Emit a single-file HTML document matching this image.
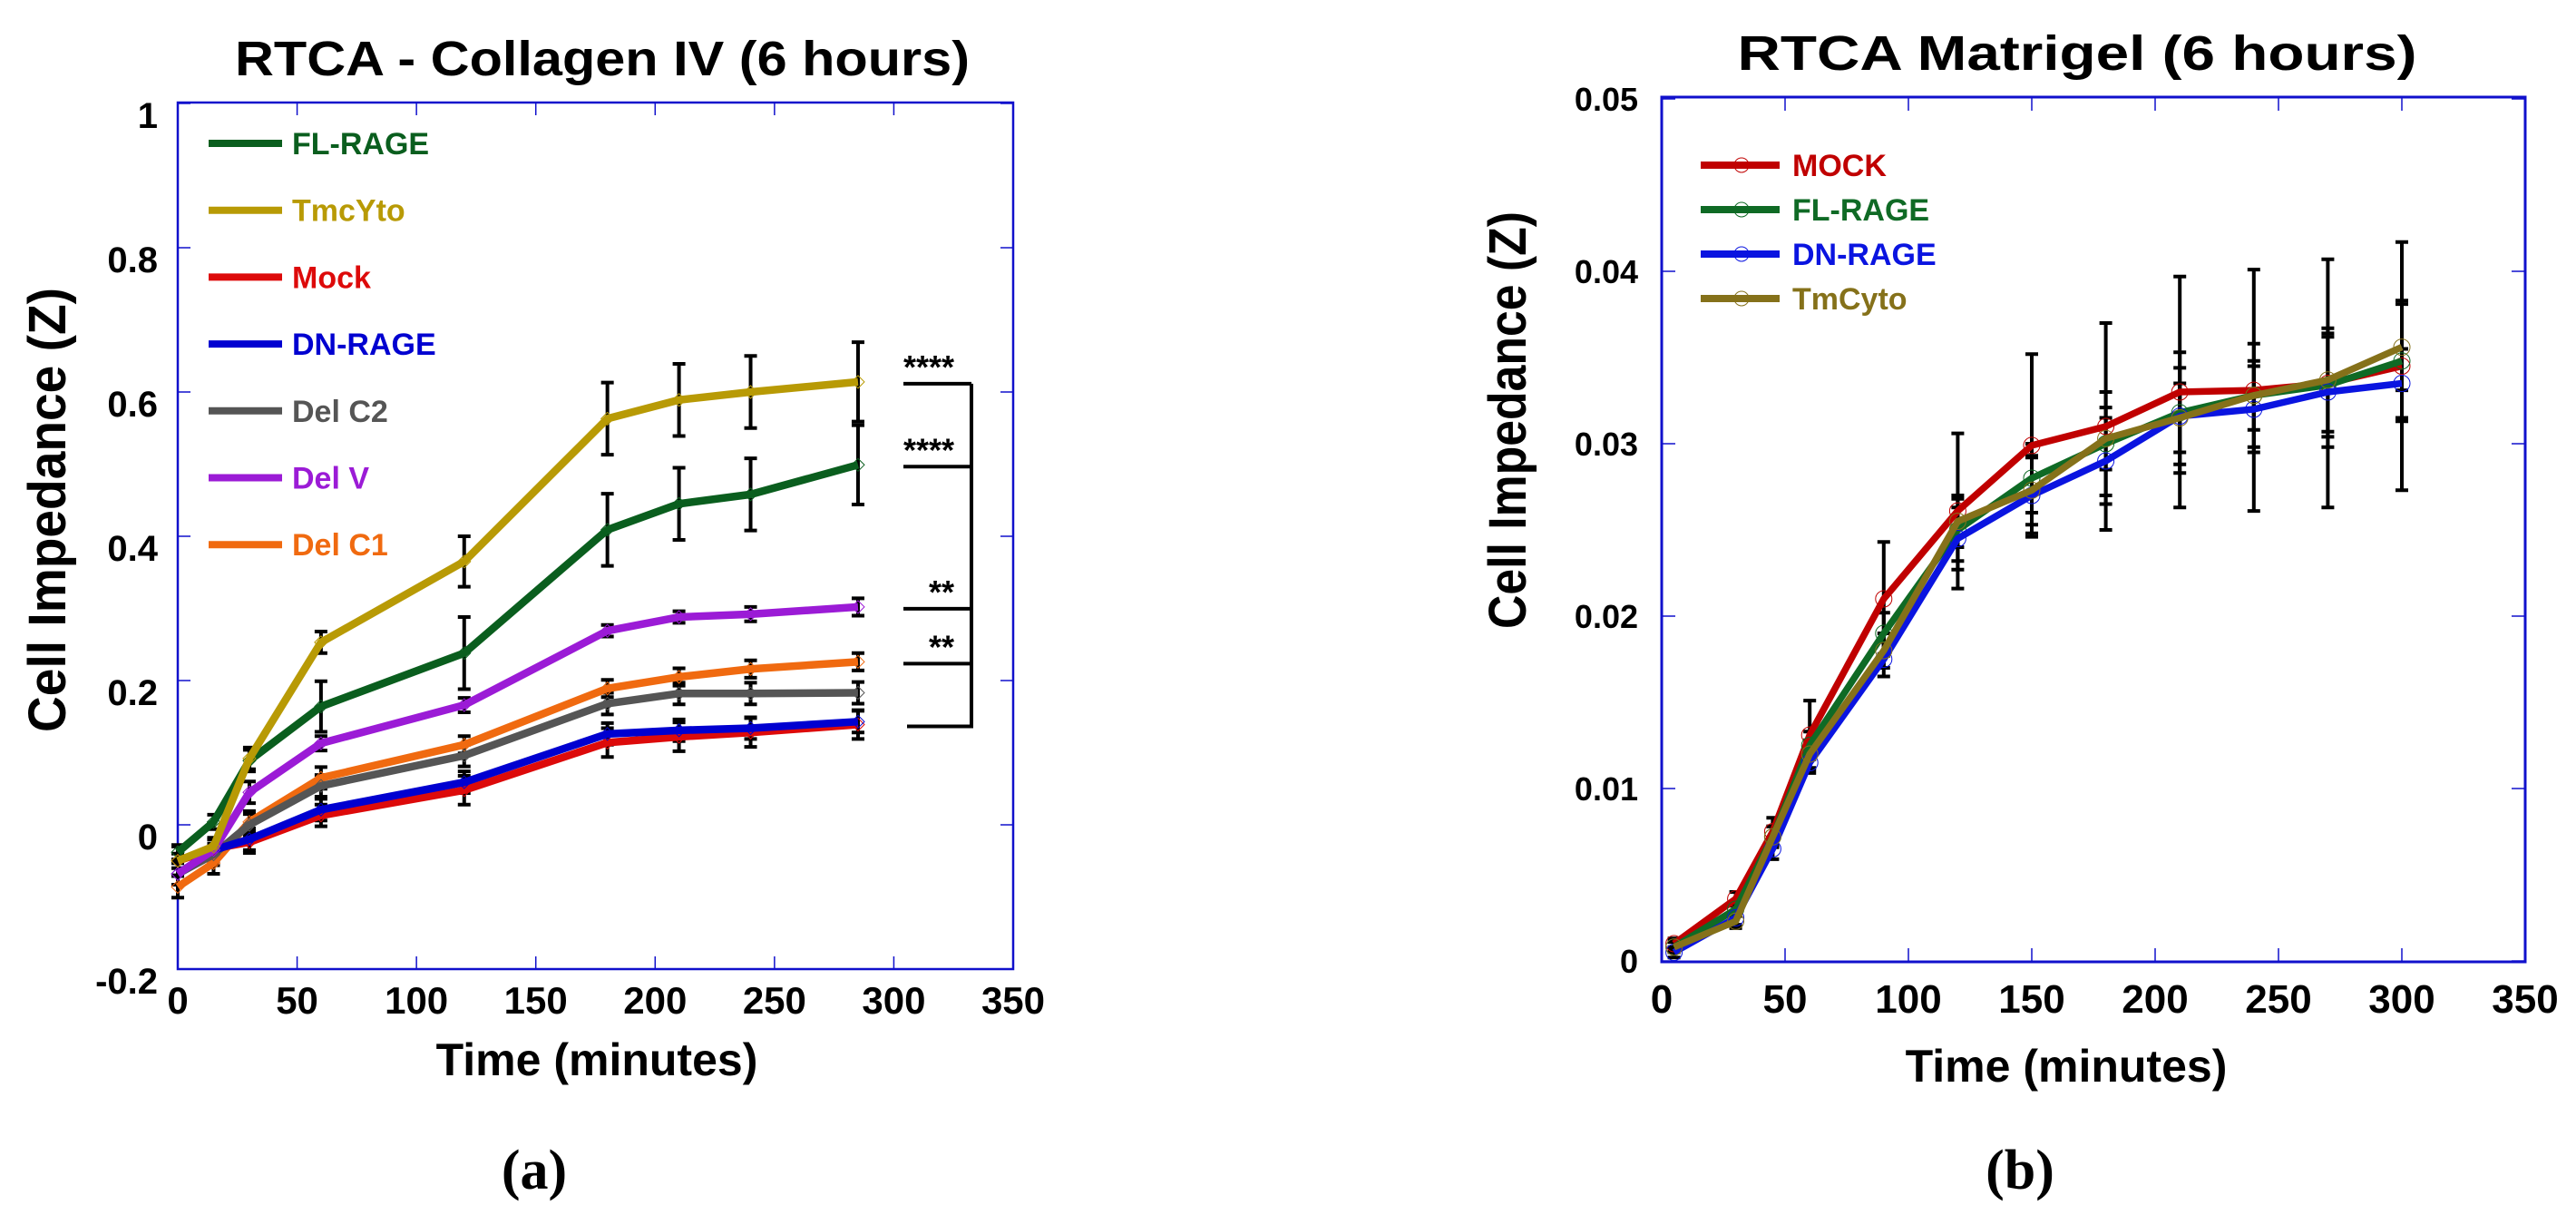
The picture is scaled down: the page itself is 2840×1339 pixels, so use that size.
<!DOCTYPE html>
<html><head><meta charset="utf-8"><style>
html,body{margin:0;padding:0;background:#fff;}
svg{display:block;font-family:"Liberation Sans",Arial,sans-serif;font-weight:bold;}
</style></head><body>
<svg id="fig" width="2840" height="1339" viewBox="0 0 2840 1339" xmlns="http://www.w3.org/2000/svg">
<g id="A"></g>
<g id="B"></g>
</svg>
<script>
// ---------- Chart A data ----------
const aTimes = [0, 15, 30, 60, 120, 180, 210, 240, 285];
const aNames = ["FL-RAGE","TmcYto","Mock","DN-RAGE","Del C2","Del V","Del C1"];
const aFL   = [-0.038, 0.004, 0.089, 0.164, 0.238, 0.409, 0.445, 0.458, 0.499];
const aTmc  = [-0.050, -0.030, 0.092, 0.253, 0.365, 0.563, 0.589, 0.600, 0.614];
const aMock = [-0.050, -0.033, -0.024, 0.013, 0.048, 0.114, 0.122, 0.128, 0.139];
const aDN   = [-0.068, -0.035, -0.020, 0.021, 0.059, 0.126, 0.131, 0.134, 0.143];
const aC2   = [-0.068, -0.041, 0.000, 0.054, 0.096, 0.168, 0.182, 0.182, 0.183];
const aDelV = [-0.068, -0.035, 0.045, 0.113, 0.166, 0.269, 0.288, 0.292, 0.302];
const aC1   = [-0.086, -0.053, 0.004, 0.065, 0.111, 0.189, 0.205, 0.216, 0.226];
const aErrFL   = [0.01, 0.01, 0.015, 0.035, 0.05, 0.05, 0.05, 0.05, 0.055];
const aErrTmc  = [0.01, 0.01, 0.015, 0.015, 0.035, 0.05, 0.05, 0.05, 0.055];
const aErrMock = [0.02, 0.015, 0.015, 0.015, 0.02, 0.02, 0.02, 0.02, 0.02];
const aErrDN   = [0.015, 0.015, 0.015, 0.015, 0.015, 0.015, 0.015, 0.015, 0.015];
const aErrC2   = [0.015, 0.015, 0.015, 0.015, 0.015, 0.015, 0.015, 0.015, 0.015];
const aErrDelV = [0.015, 0.015, 0.015, 0.01, 0.01, 0.008, 0.008, 0.01, 0.012];
const aErrC1   = [0.015, 0.015, 0.015, 0.015, 0.012, 0.012, 0.012, 0.012, 0.012];
const aYTicks = [-0.2, 0, 0.2, 0.4, 0.6, 0.8, 1];
const aYTickLabels = ["-0.2","0","0.2","0.4","0.6","0.8","1"];
const aXTicks = [0, 50, 100, 150, 200, 250, 300, 350];
const aSigLabels = ["****","****","**","**"];
const aSigValues = [0.614, 0.499, 0.302, 0.226];
const aSigBase = 0.139;

// ---------- Chart B data ----------
const bTimes = [5, 30, 45, 60, 90, 120, 150, 180, 210, 240, 270, 300];
const bNames = ["MOCK","FL-RAGE","DN-RAGE","TmCyto"];
const bMock = [0.0010, 0.0036, 0.0075, 0.0131, 0.0210, 0.0261, 0.0299, 0.0310, 0.0330, 0.0331, 0.0335, 0.0345];
const bFL   = [0.0008, 0.0030, 0.0072, 0.0125, 0.0190, 0.0250, 0.0280, 0.0300, 0.0318, 0.0328, 0.0334, 0.0348];
const bDN   = [0.0005, 0.0025, 0.0065, 0.0115, 0.0175, 0.0245, 0.0270, 0.0290, 0.0316, 0.0320, 0.0330, 0.0335];
const bTm   = [0.0008, 0.0023, 0.0072, 0.0120, 0.0180, 0.0255, 0.0273, 0.0303, 0.0315, 0.0328, 0.0337, 0.0356];
const bErrMock = [0.0003, 0.0004, 0.0008, 0.0020, 0.0033, 0.0045, 0.0053, 0.0060, 0.0067, 0.0070, 0.0072, 0.0072];
const bErrFL   = [0.0003, 0.0004, 0.0006, 0.0008, 0.0012, 0.0018, 0.0020, 0.0030, 0.0035, 0.0030, 0.0030, 0.0035];
const bErrDN   = [0.0003, 0.0004, 0.0006, 0.0006, 0.0010, 0.0018, 0.0022, 0.0025, 0.0028, 0.0025, 0.0032, 0.0020];
const bErrTm   = [0.0003, 0.0004, 0.0006, 0.0008, 0.0010, 0.0015, 0.0020, 0.0018, 0.0020, 0.0020, 0.0030, 0.0025];
const bYTicks = [0, 0.01, 0.02, 0.03, 0.04, 0.05];
const bYTickLabels = ["0","0.01","0.02","0.03","0.04","0.05"];
const bXTicks = [0, 50, 100, 150, 200, 250, 300, 350];

const NS = "http://www.w3.org/2000/svg";
function mk(parent, tag, attrs, text) {
  const e = document.createElementNS(NS, tag);
  for (const k in attrs) e.setAttribute(k, attrs[k]);
  if (text !== undefined) e.textContent = text;
  parent.appendChild(e);
  return e;
}

// ---------- Chart A ----------
(function(){
  const g = document.getElementById("A");
  const L = 196, R = 1117, T = 113, B = 1068;
  const x = t => L + (t - 0) / 350 * (R - L);
  const y = v => 909 - v * 795;
  const frame = mk(g, "rect", {x:L, y:T, width:R-L, height:B-T, fill:"none", stroke:"#1010cc", "stroke-width":2.5});
  
  
  aYTicks.forEach((v,i) => {
    const t1 = mk(g, "line", {x1:L, x2:L+14, y1:y(v), y2:y(v), stroke:"#1010cc", "stroke-width":1.5});
    
    
    const t2 = mk(g, "line", {x1:R-14, x2:R, y1:y(v), y2:y(v), stroke:"#1010cc", "stroke-width":1.5});
    
    
    const lb = mk(g, "text", {x:174, y:y(v)+27, "text-anchor":"end", "font-size":40}, aYTickLabels[i]);
    
    
  });
  aXTicks.forEach(v => {
    const t1 = mk(g, "line", {x1:x(v), x2:x(v), y1:B, y2:B-14, stroke:"#1010cc", "stroke-width":1.5});
    
    
    const t2 = mk(g, "line", {x1:x(v), x2:x(v), y1:T, y2:T+14, stroke:"#1010cc", "stroke-width":1.5});
    
    
    const lb = mk(g, "text", {x:x(v), y:1117, "text-anchor":"middle", "font-size":42}, String(v));
    
    
  });
  const series = [
    [aC1, aErrC1, "#f06a10"], [aC2, aErrC2, "#555555"], [aMock, aErrMock, "#dd0a0a"],
    [aDN, aErrDN, "#0000d0"], [aDelV, aErrDelV, "#9b1bd6"], [aFL, aErrFL, "#0a5e1e"], [aTmc, aErrTmc, "#b89a05"]
  ];
  series.forEach(([vals, errs, col]) => {
    vals.forEach((v,i) => {
      const hi = y(v+errs[i]), lo = y(v-errs[i]), cx = x(aTimes[i]);
      const eb = mk(g, "path", {d:`M${cx},${hi}V${lo}M${cx-7},${hi}h14M${cx-7},${lo}h14`, stroke:"#000", "stroke-width":4, fill:"none"});
      
      
    });
  });
  series.forEach(([vals, errs, col]) => {
    const pl = mk(g, "polyline", {points: vals.map((v,i)=>x(aTimes[i])+","+y(v)).join(" "), fill:"none", stroke:col, "stroke-width":8.5, "stroke-linejoin":"round"});
    
    
    vals.forEach((v,i) => {
      const cx = x(aTimes[i]), cy = y(v);
      const m = mk(g, "path", {d:`M${cx-7},${cy}L${cx},${cy-7}L${cx+7},${cy}L${cx},${cy+7}Z`, fill:"none", stroke:col, "stroke-width":1});
      
      
    });
  });
  const legCols = ["#0a5e1e","#b89a05","#dd0a0a","#0000d0","#555555","#9b1bd6","#f06a10"];
  aNames.forEach((n,i) => {
    const yy = 158 + i * 73.7;
    const ln = mk(g, "line", {x1:230, x2:311, y1:yy, y2:yy, stroke:legCols[i], "stroke-width":8});
    
    
    const tx = mk(g, "text", {x:322, y:yy+12, "font-size":34, fill:legCols[i]}, n);
    
    
  });
  const vx = 1071;
  const vline = mk(g, "line", {x1:vx, x2:vx, y1:y(aSigValues[0])+2, y2:y(aSigBase)+2, stroke:"#000", "stroke-width":4});
  
  
  const bl = mk(g, "line", {x1:1000, x2:vx+2, y1:y(aSigBase)+2, y2:y(aSigBase)+2, stroke:"#000", "stroke-width":4});
  
  
  aSigValues.forEach((v,i) => {
    const yy = y(v)+2;
    const hl = mk(g, "line", {x1:996, x2:vx, y1:yy, y2:yy, stroke:"#000", "stroke-width":4});
    
    
    const st = mk(g, "text", {x:1052, y:yy-6, "text-anchor":"end", "font-size":36}, aSigLabels[i]);
    
    
  });
  const title = mk(g, "text", {x:664, y:83, "text-anchor":"middle", "font-size":54, textLength:810, lengthAdjust:"spacingAndGlyphs"}, "RTCA - Collagen IV (6 hours)");
  
  
  const yt = mk(g, "text", {x:0, y:0, "text-anchor":"middle", "font-size":58, transform:"translate(72,562) rotate(-90)", textLength:490, lengthAdjust:"spacingAndGlyphs"}, "Cell Impedance (Z)");
  
  
  const xt = mk(g, "text", {x:658, y:1185, "text-anchor":"middle", "font-size":50}, "Time (minutes)");
  
  
  const pa = mk(g, "text", {x:589, y:1310, "text-anchor":"middle", "font-size":62, "font-family":"Liberation Serif, serif"}, "(a)");
  
  
})();

// ---------- Chart B ----------
(function(){
  const g = document.getElementById("B");
  const L = 1832, R = 2784, T = 107, B = 1060;
  const x = t => L + t / 350 * (R - L);
  const y = v => 1059 - v * 19000;
  const frame = mk(g, "rect", {x:L, y:T, width:R-L, height:B-T, fill:"none", stroke:"#1010cc", "stroke-width":3});
  
  
  bYTicks.forEach((v,i) => {
    const t1 = mk(g, "line", {x1:L, x2:L+15, y1:y(v), y2:y(v), stroke:"#1010cc", "stroke-width":1.5});
    
    
    const t2 = mk(g, "line", {x1:R-15, x2:R, y1:y(v), y2:y(v), stroke:"#1010cc", "stroke-width":1.5});
    
    
    const lb = mk(g, "text", {x:1806, y:y(v)+13, "text-anchor":"end", "font-size":36}, bYTickLabels[i]);
    
    
  });
  bXTicks.forEach(v => {
    const t1 = mk(g, "line", {x1:x(v), x2:x(v), y1:B, y2:B-15, stroke:"#1010cc", "stroke-width":1.5});
    
    
    const t2 = mk(g, "line", {x1:x(v), x2:x(v), y1:T, y2:T+15, stroke:"#1010cc", "stroke-width":1.5});
    
    
    const lb = mk(g, "text", {x:x(v), y:1116, "text-anchor":"middle", "font-size":44}, String(v));
    
    
  });
  const series = [[bMock, bErrMock, "#c00000"], [bFL, bErrFL, "#0f6a25"], [bDN, bErrDN, "#0a14e0"], [bTm, bErrTm, "#85711a"]];
  series.forEach(([vals, errs]) => {
    vals.forEach((v,i) => {
      const hi = y(v+errs[i]), lo = y(v-errs[i]), cx = x(bTimes[i]);
      const eb = mk(g, "path", {d:`M${cx},${hi}V${lo}M${cx-7},${hi}h14M${cx-7},${lo}h14`, stroke:"#000", "stroke-width":4, fill:"none"});
      
      
    });
  });
  series.forEach(([vals, errs, col]) => {
    const pl = mk(g, "polyline", {points: vals.map((v,i)=>x(bTimes[i])+","+y(v)).join(" "), fill:"none", stroke:col, "stroke-width":7.5, "stroke-linejoin":"round"});
    
    
    vals.forEach((v,i) => {
      const c = mk(g, "circle", {cx:x(bTimes[i]), cy:y(v), r:9, fill:"none", stroke:col, "stroke-width":1});
      
      
    });
  });
  const legCols = ["#c00000","#0f6a25","#0a14e0","#85711a"];
  bNames.forEach((n,i) => {
    const yy = 182 + i * 49;
    const ln = mk(g, "line", {x1:1875, x2:1962, y1:yy, y2:yy, stroke:legCols[i], "stroke-width":8});
    
    
    const c = mk(g, "circle", {cx:1920, cy:yy, r:8, fill:"none", stroke:legCols[i], "stroke-width":1});
    
    
    const tx = mk(g, "text", {x:1976, y:yy+12, "font-size":34, fill:legCols[i]}, n);
    
    
  });
  const title = mk(g, "text", {x:2290, y:77, "text-anchor":"middle", "font-size":54, textLength:749, lengthAdjust:"spacingAndGlyphs"}, "RTCA Matrigel (6 hours)");
  
  
  const yt = mk(g, "text", {x:0, y:0, "text-anchor":"middle", "font-size":58, transform:"translate(1682,463) rotate(-90)", textLength:460, lengthAdjust:"spacingAndGlyphs"}, "Cell Impedance (Z)");
  
  
  const xt = mk(g, "text", {x:2278, y:1192, "text-anchor":"middle", "font-size":50}, "Time (minutes)");
  
  
  const pb = mk(g, "text", {x:2227, y:1310, "text-anchor":"middle", "font-size":62, "font-family":"Liberation Serif, serif"}, "(b)");
  
  
})();
</script>
</body></html>
